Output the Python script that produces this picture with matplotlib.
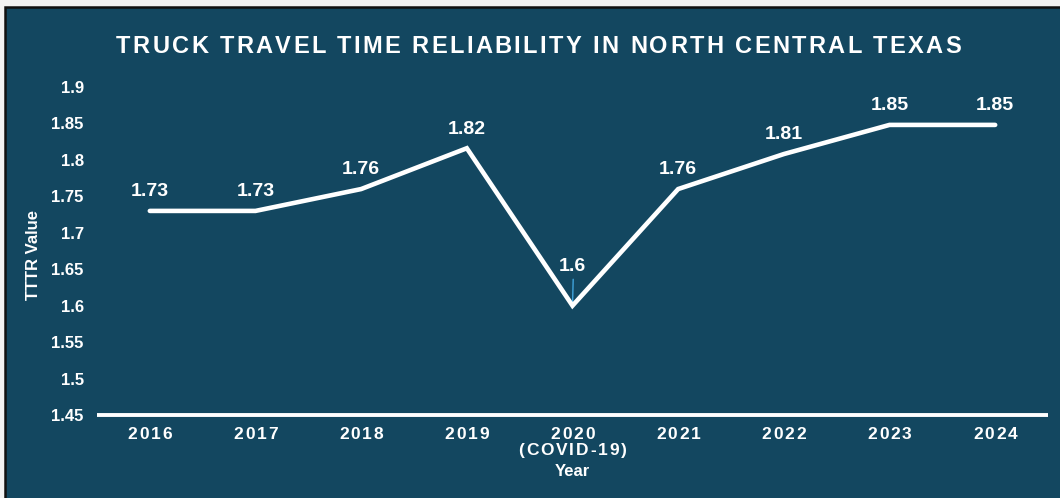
import matplotlib
matplotlib.use('Agg')
import matplotlib.pyplot as plt
from matplotlib.font_manager import FontProperties
from matplotlib.patches import Rectangle

# ---- data ----
years = ['2016', '2017', '2018', '2019', '2020', '2021', '2022', '2023', '2024']
year_notes = ['', '', '', '', '(COVID-19)', '', '', '', '']
tttr = [1.73, 1.73, 1.76, 1.816, 1.6, 1.76, 1.808, 1.848, 1.848]
y_ticks = [1.45, 1.5, 1.55, 1.6, 1.65, 1.7, 1.75, 1.8, 1.85, 1.9]
y_tick_labels = ['1.45', '1.5', '1.55', '1.6', '1.65', '1.7', '1.75', '1.8', '1.85', '1.9']
title = 'TRUCK TRAVEL TIME RELIABILITY IN NORTH CENTRAL TEXAS'
x_title = 'Year'
y_title = 'TTTR Value'

# ---- style ----
W, H = 1060, 498
BG = '#134760'
FONT = 'Liberation Sans'
plt.rcParams['font.family'] = [FONT, 'DejaVu Sans']

fig = plt.figure(figsize=(W / 100, H / 100), dpi=100, facecolor='#f3f3f3')
fig.patches.append(Rectangle((5 / W, -0.02), 1.0, 1 - 7 / H + 0.02,
                             transform=fig.transFigure, facecolor=BG,
                             edgecolor='#111111', linewidth=1.8, zorder=-10))

ax = fig.add_axes([97 / W, 1 - 415 / H, (1048 - 97) / W, (415 - 87) / H])
ax.set_zorder(2)
ax.set_facecolor('none')
ax.set_xlim(-0.5, len(years) - 0.5)
ax.set_ylim(1.45, 1.9)
for s in ['top', 'right', 'left']:
    ax.spines[s].set_visible(False)
ax.spines['bottom'].set_color('white')
ax.spines['bottom'].set_linewidth(2.8)
ax.spines['bottom'].set_capstyle('butt')
ax.set_yticks(y_ticks)
ax.set_yticklabels(y_tick_labels, fontsize=12, fontweight='bold', color='white')
ax.tick_params(axis='y', length=0, pad=9.5)
ax.set_xticks(range(len(years)))
ax.set_xticklabels([])
ax.tick_params(axis='x', length=0)

xs = list(range(len(years)))
ax.plot(xs, tttr, color='white', lw=3.3, solid_capstyle='round',
        solid_joinstyle='miter', zorder=3)

for i, v in enumerate(tttr):
    lab = f'{round(v, 2):g}'
    if i == 4:
        ax.annotate(lab, (i, v), xytext=(0, 25), textcoords='offset points',
                    ha='center', va='baseline', color='white', fontsize=14,
                    fontweight='bold', zorder=4)
        ax.annotate('', (i, v), xytext=(0.5, 19), textcoords='offset points',
                    arrowprops=dict(arrowstyle='-', color='#3fa3dc', lw=1.0,
                                    shrinkA=0, shrinkB=0), zorder=2)
    else:
        ax.annotate(lab, (i, v), xytext=(0, 10.5), textcoords='offset points',
                    ha='center', va='baseline', color='white', fontsize=14,
                    fontweight='bold', zorder=4)

renderer = fig.canvas.get_renderer()


def char_width(c, fp):
    w1 = renderer.get_text_width_height_descent('|' + c + '|', fp, ismath=False)[0]
    w0 = renderer.get_text_width_height_descent('||', fp, ismath=False)[0]
    return w1 - w0


def spaced_text(xc, y_base, s, size, spacing, weight='bold', color='white'):
    fp = FontProperties(family=FONT, weight=weight, size=size)
    widths = [char_width(c, fp) for c in s]
    total = sum(widths) + spacing * (len(s) - 1)
    x = xc - total / 2
    for c, w in zip(s, widths):
        fig.text(x / W, 1 - y_base / H, c, fontproperties=fp, color=color,
                 ha='left', va='baseline', zorder=5)
        x += w + spacing


# title
spaced_text(538.5, 53, title, 17, 2.35)

# x tick labels
for i, (yr, note) in enumerate(zip(years, year_notes)):
    xp = ax.transData.transform((i, 1.45))[0]
    spaced_text(xp, 439, yr, 12.5, 1.8)
    if note:
        spaced_text(xp, 455, note, 12.5, 1.8)

# axis titles
x_center = ax.transData.transform((4, 1.45))[0]
fig.text(x_center / W, 1 - 476 / H, x_title, color='white', fontsize=12,
         fontweight='bold', ha='center', va='baseline', zorder=5)
fig.text(33 / W, 1 - 255 / H, y_title, color='white', fontsize=12,
         fontweight='bold', ha='center', va='center', rotation=90, zorder=5)

fig.savefig('out.png', dpi=100, facecolor=fig.get_facecolor())
